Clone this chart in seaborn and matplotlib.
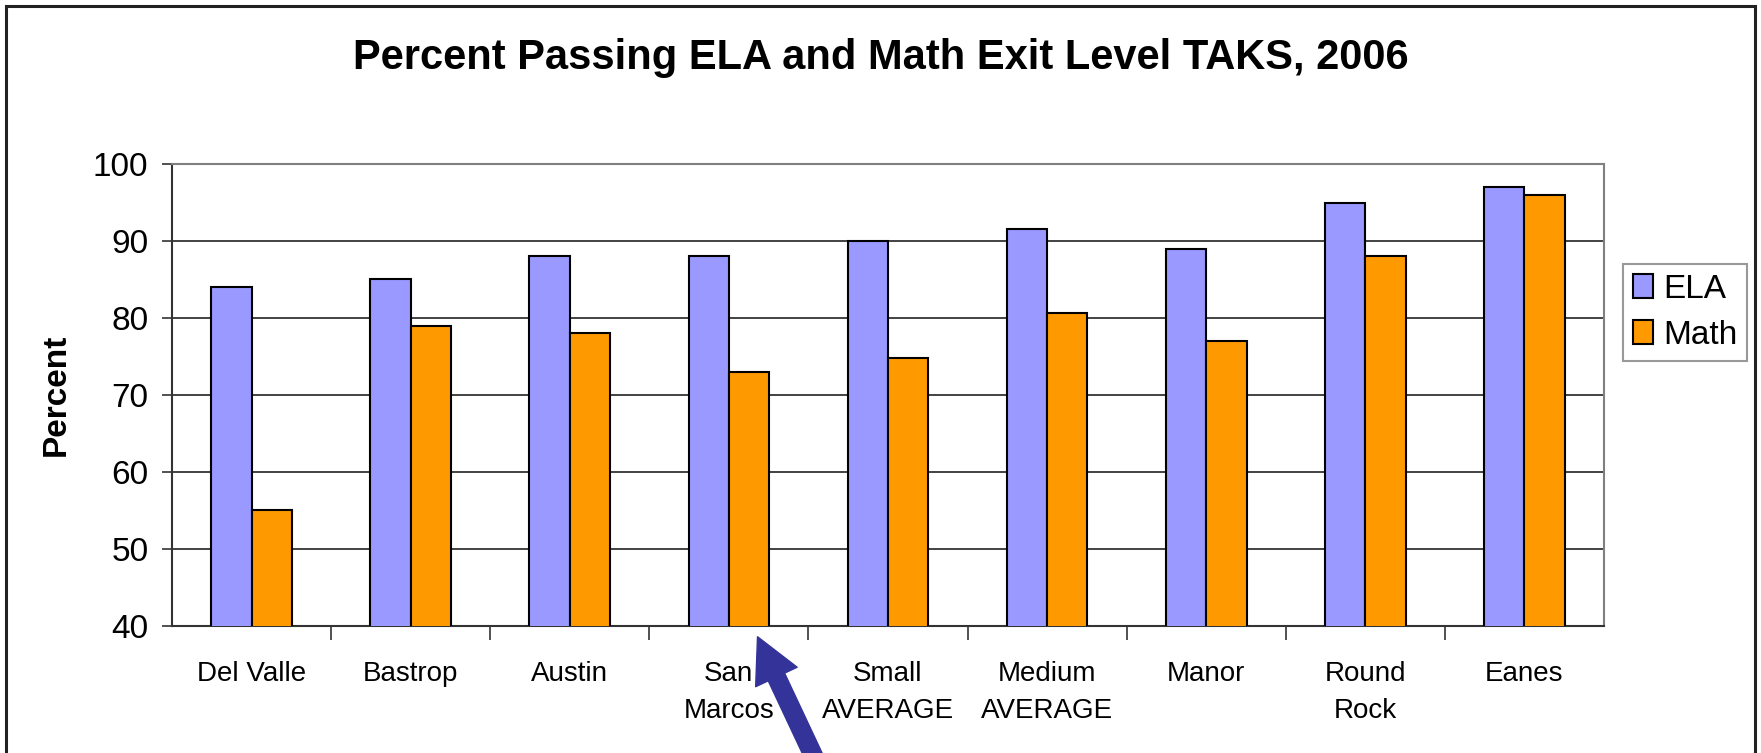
import pandas as pd
import seaborn as sns
import matplotlib.pyplot as plt
from matplotlib.patches import Rectangle

# --- DATA ---
districts = ["Del Valle", "Bastrop", "Austin", "San\nMarcos", "Small\nAVERAGE",
             "Medium\nAVERAGE", "Manor", "Round\nRock", "Eanes"]
ela = [84, 85, 88, 88, 90, 91.5, 89, 95, 97]
math = [55, 79, 78, 73, 74.8, 80.7, 77, 88, 96]
subjects = ["ELA", "Math"]
colors = ["#9999FF", "#FF9900"]
y_ticks = [40, 50, 60, 70, 80, 90, 100]


def main():
    df = pd.DataFrame({
        "District": districts * 2,
        "Subject": [subjects[0]] * len(districts) + [subjects[1]] * len(districts),
        "Percent": ela + math,
    })

    sns.set_style("white")
    plt.rcParams["font.family"] = ["Liberation Sans", "DejaVu Sans"]
    plt.rcParams["text.color"] = "black"
    plt.rcParams["axes.labelcolor"] = "black"
    plt.rcParams["xtick.color"] = "black"
    plt.rcParams["ytick.color"] = "black"

    fig = plt.figure(figsize=(17.61, 7.53), dpi=100)
    ax = fig.add_axes([0.0977, 0.1687, 0.8131, 0.6135])

    sns.barplot(data=df, x="District", y="Percent", hue="Subject",
                palette=colors, width=0.507, gap=0, ax=ax,
                edgecolor="black", linewidth=1.5, saturation=1, zorder=3)

    ax.set_ylim(40, 100)
    ax.set_xlim(-0.5, len(districts) - 0.5)
    ax.set_yticks(y_ticks)
    ax.set_yticklabels([str(v) for v in y_ticks], fontsize=24)
    ax.yaxis.grid(True, color="#222222", linewidth=1.2, zorder=0)
    ax.set_axisbelow(True)

    # x ticks sit between the groups, labels at group centres
    ax.set_xticks([i + 0.5 for i in range(len(districts) - 1)])
    ax.set_xticklabels([])
    ax.set_xticks(range(len(districts)), minor=True)
    ax.set_xticklabels(districts, minor=True, fontsize=20, linespacing=1.55)
    ax.tick_params(axis="x", which="major", direction="out", length=10,
                   width=1.2, color="#333333", bottom=True)
    ax.tick_params(axis="x", which="minor", length=0, pad=25)
    ax.tick_params(axis="y", direction="out", length=7, width=1.2,
                   color="#333333", left=True, pad=10)

    ax.set_xlabel("")
    ax.set_ylabel("Percent", fontsize=24, fontweight="bold", labelpad=15)

    for side in ["left", "bottom"]:
        ax.spines[side].set_color("#333333")
        ax.spines[side].set_linewidth(1.5)
    for side in ["top", "right"]:
        ax.spines[side].set_color("#808080")
        ax.spines[side].set_linewidth(1.5)

    leg = ax.legend(loc="upper left", bbox_to_anchor=(1.013, 0.784),
                    borderaxespad=0, fontsize=24, fancybox=False,
                    frameon=True, handlelength=0.62, handleheight=0.7,
                    handletextpad=0.3, labelspacing=0.45, borderpad=0.3)
    leg.get_frame().set_edgecolor("#808080")
    leg.get_frame().set_linewidth(1.5)
    for h in leg.legend_handles:
        h.set_edgecolor("black")
        h.set_linewidth(1.5)

    fig.suptitle("Percent Passing ELA and Math Exit Level TAKS, 2006",
                 fontsize=30, fontweight="bold", x=0.5, y=0.923, va="center")

    # arrow pointing at San Marcos
    ax.annotate("", xy=(3.18, 38.6), xytext=(3.58, 21.0),
                xycoords="data", textcoords="data", annotation_clip=False,
                arrowprops=dict(facecolor="#333399", edgecolor="#333399",
                                width=13, headwidth=33, headlength=32,
                                shrink=0))

    # outer chart border
    fig.patches.append(Rectangle((6 / 1761, -0.02), 1749 / 1761, 1.02 - 6 / 753,
                                 transform=fig.transFigure, fill=False,
                                 edgecolor="#222222", linewidth=2.2))

    fig.savefig("out.png", dpi=100)


if __name__ == "__main__":
    main()
